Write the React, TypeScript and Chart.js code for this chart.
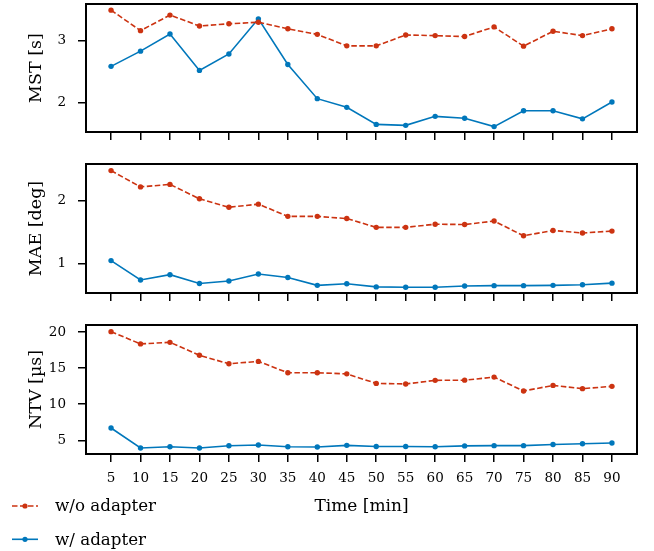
import React, { useEffect, useRef } from 'react';
import { Chart, registerables } from 'chart.js';

Chart.register(...registerables);

// ---------- data ----------
const times = [5, 10, 15, 20, 25, 30, 35, 40, 45, 50, 55, 60, 65, 70, 75, 80, 85, 90];
const xTickValues = [5, 10, 15, 20, 25, 30, 35, 40, 45, 50, 55, 60, 65, 70, 75, 80, 85, 90];
const seriesLabels = ['w/o adapter', 'w/ adapter'];

const mstWithout = [3.49, 3.16, 3.41, 3.235, 3.27, 3.295, 3.19, 3.10, 2.915, 2.915, 3.09, 3.08, 3.065, 3.22, 2.91, 3.15, 3.08, 3.19];
const mstWith = [2.585, 2.83, 3.105, 2.52, 2.785, 3.35, 2.615, 2.065, 1.925, 1.65, 1.635, 1.78, 1.75, 1.615, 1.87, 1.87, 1.74, 2.01];

const maeWithout = [2.48, 2.22, 2.26, 2.03, 1.895, 1.945, 1.75, 1.75, 1.715, 1.575, 1.575, 1.625, 1.62, 1.675, 1.44, 1.525, 1.485, 1.515];
const maeWith = [1.045, 0.735, 0.82, 0.68, 0.72, 0.83, 0.775, 0.65, 0.675, 0.625, 0.62, 0.62, 0.64, 0.645, 0.645, 0.65, 0.66, 0.685];

const ntvWithout = [20.05, 18.35, 18.57, 16.77, 15.6, 15.93, 14.35, 14.35, 14.2, 12.88, 12.8, 13.3, 13.33, 13.75, 11.83, 12.6, 12.15, 12.47];
const ntvWith = [6.7, 3.93, 4.11, 3.93, 4.25, 4.35, 4.11, 4.07, 4.3, 4.14, 4.14, 4.1, 4.22, 4.26, 4.26, 4.42, 4.52, 4.62];

const mstTicks = [2, 3];
const maeTicks = [1, 2];
const ntvTicks = [5, 10, 15, 20];

// ---------- style ----------
const RED = '#CC3311';
const BLUE = '#0077BB';
const FAMILY = "'DejaVu Serif', 'Liberation Serif', serif";

Chart.defaults.color = '#000';

const boxPlugin = {
  id: 'boxFrame',
  afterDraw(chart: any) {
    const { ctx, chartArea: a } = chart;
    ctx.save();
    ctx.strokeStyle = '#000';
    ctx.lineWidth = 2;
    ctx.strokeRect(a.left, a.top, a.right - a.left, a.bottom - a.top);
    ctx.restore();
  },
};

const legendPlugin = {
  id: 'bottomLegend',
  afterDraw(chart: any) {
    const ctx = chart.ctx;
    const ds = chart.data.datasets;
    ds.forEach((d: any, i: number) => {
      const y = 200 + i * 33.3;
      ctx.save();
      ctx.strokeStyle = d.borderColor;
      ctx.lineWidth = d.borderWidth;
      ctx.setLineDash(d.borderDash || []);
      ctx.beginPath();
      ctx.moveTo(12, y);
      ctx.lineTo(38, y);
      ctx.stroke();
      ctx.setLineDash([]);
      ctx.fillStyle = d.pointBackgroundColor;
      ctx.beginPath();
      ctx.arc(25, y, 2.6, 0, Math.PI * 2);
      ctx.fill();
      ctx.fillStyle = '#000';
      ctx.font = `16.7px ${FAMILY}`;
      ctx.textBaseline = 'middle';
      ctx.textAlign = 'left';
      ctx.fillText(d.label, 55, y + 1);
      ctx.restore();
    });
  },
};

type PanelSpec = {
  without: number[];
  withA: number[];
  yMin: number;
  yMax: number;
  yTicks: number[];
  yTitle: string;
  padTop: number;
  xHeight: number;
  showX: boolean;
  legend: boolean;
};

function buildConfig(p: PanelSpec): any {
  const tickFont = { family: FAMILY, size: 13.5 };
  const yTitleFont = { family: FAMILY, size: 17.5 };
  const xTitleFont = { family: FAMILY, size: 17 };
  const grid = { drawOnChartArea: false, drawTicks: true, tickLength: 8, color: '#000', lineWidth: 1.5 };
  return {
    type: 'line',
    data: {
      datasets: [
        {
          label: seriesLabels[0],
          data: times.map((t, i) => ({ x: t, y: p.without[i] })),
          borderColor: RED,
          backgroundColor: RED,
          pointBackgroundColor: RED,
          pointBorderColor: RED,
          borderDash: [5.5, 2.5],
          borderWidth: 1.6,
          pointRadius: 2.7,
          pointBorderWidth: 0,
          tension: 0,
        },
        {
          label: seriesLabels[1],
          data: times.map((t, i) => ({ x: t, y: p.withA[i] })),
          borderColor: BLUE,
          backgroundColor: BLUE,
          pointBackgroundColor: BLUE,
          pointBorderColor: BLUE,
          borderWidth: 1.6,
          pointRadius: 2.7,
          pointBorderWidth: 0,
          tension: 0,
        },
      ],
    },
    options: {
      responsive: false,
      animation: false,
      events: [],
      layout: { padding: { left: 0, right: 17, top: p.padTop, bottom: 0 } },
      plugins: { legend: { display: false }, tooltip: { enabled: false } },
      scales: {
        x: {
          type: 'linear',
          min: 0.75,
          max: 94.25,
          afterBuildTicks: (s: any) => {
            s.ticks = xTickValues.map((v) => ({ value: v }));
          },
          afterFit: (s: any) => {
            s.height = p.xHeight;
            s.paddingLeft = 0;
            s.paddingRight = 0;
            s.paddingTop = 0;
            s.paddingBottom = 0;
          },
          grid,
          border: { display: false },
          ticks: {
            display: p.showX,
            padding: 8,
            font: tickFont,
            color: '#000',
            maxRotation: 0,
            autoSkip: false,
            callback: (v: any) => String(v),
          },
          title: {
            display: p.showX,
            text: 'Time [min]',
            font: xTitleFont,
            color: '#000',
            padding: { top: 0, bottom: 34 },
          },
        },
        y: {
          type: 'linear',
          min: p.yMin,
          max: p.yMax,
          afterBuildTicks: (s: any) => {
            s.ticks = p.yTicks.map((v) => ({ value: v }));
          },
          afterFit: (s: any) => {
            s.width = 86;
            s.paddingLeft = 0;
            s.paddingRight = 0;
            s.paddingTop = 0;
            s.paddingBottom = 0;
          },
          grid,
          border: { display: false },
          ticks: {
            padding: 12,
            font: tickFont,
            color: '#000',
            callback: (v: any) => String(v),
          },
          title: {
            display: true,
            text: p.yTitle,
            font: yTitleFont,
            color: '#000',
            padding: { top: 25.5, bottom: 0 },
          },
        },
      },
    },
    plugins: p.legend ? [boxPlugin, legendPlugin] : [boxPlugin],
  };
}

function Panel({ spec, top, height }: { spec: PanelSpec; top: number; height: number }) {
  const ref = useRef<HTMLCanvasElement | null>(null);
  useEffect(() => {
    if (!ref.current) return;
    const chart = new Chart(ref.current, buildConfig(spec));
    return () => chart.destroy();
  }, []);
  return (
    <canvas
      ref={ref}
      width={654}
      height={height}
      style={{ position: 'absolute', left: 0, top, width: 654, height }}
    />
  );
}

const panels: { spec: PanelSpec; top: number; height: number }[] = [
  {
    top: 0,
    height: 146,
    spec: {
      without: mstWithout,
      withA: mstWith,
      yMin: 1.528,
      yMax: 3.589,
      yTicks: mstTicks,
      yTitle: 'MST [s]',
      padTop: 3,
      xHeight: 14,
      showX: false,
      legend: false,
    },
  },
  {
    top: 146,
    height: 160,
    spec: {
      without: maeWithout,
      withA: maeWith,
      yMin: 0.528,
      yMax: 2.585,
      yTicks: maeTicks,
      yTitle: 'MAE [deg]',
      padTop: 18,
      xHeight: 13,
      showX: false,
      legend: false,
    },
  },
  {
    top: 306,
    height: 245,
    spec: {
      without: ntvWithout,
      withA: ntvWith,
      yMin: 3.1,
      yMax: 20.97,
      yTicks: ntvTicks,
      yTitle: 'NTV [µs]',
      padTop: 19,
      xHeight: 97,
      showX: true,
      legend: true,
    },
  },
];

export default function App() {
  return (
    <div style={{ position: 'absolute', left: 0, top: 0, width: 654, height: 551, background: '#fff' }}>
      {panels.map((p, i) => (
        <Panel key={i} spec={p.spec} top={p.top} height={p.height} />
      ))}
    </div>
  );
}
